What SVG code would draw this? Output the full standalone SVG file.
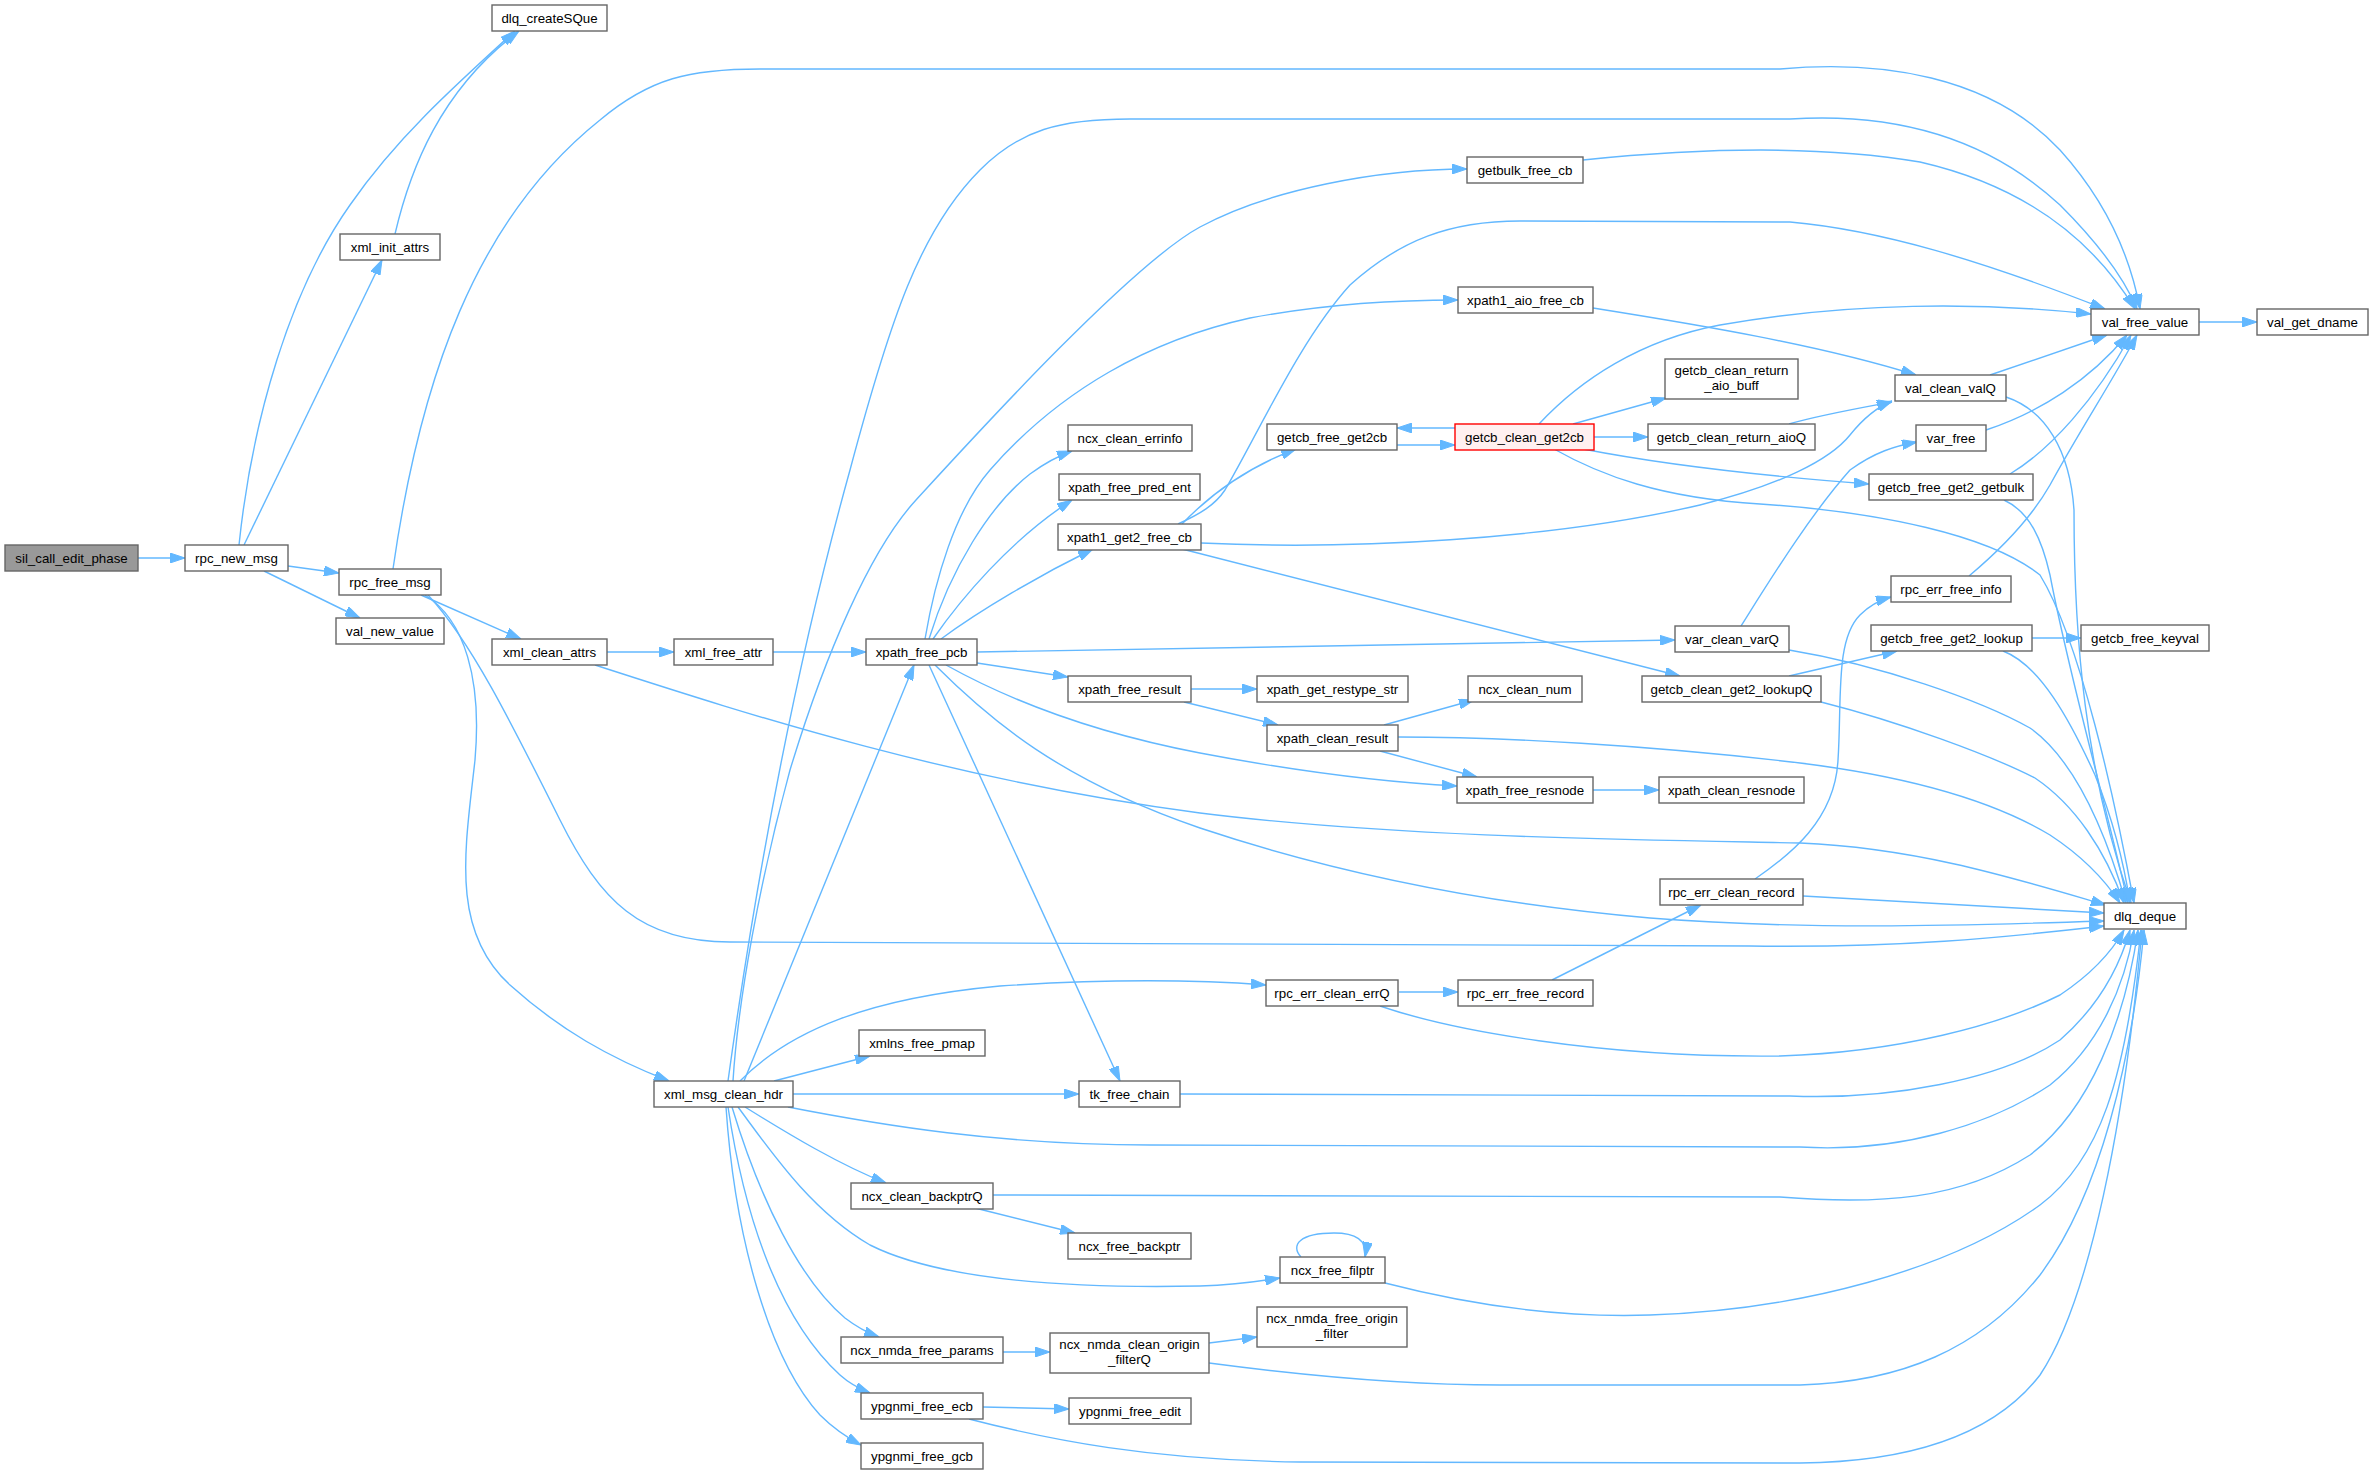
<svg xmlns="http://www.w3.org/2000/svg" width="2373" height="1473" viewBox="0 0 2373 1473">
<defs>
<style>
.n rect{fill:#ffffff;stroke:#666666;stroke-width:1.4}
.n text{font-family:"Liberation Sans",Arial,sans-serif;font-size:13.3px;fill:#000000;text-anchor:middle}
.root rect{fill:#999999}
.hl rect{fill:#fff0f0;stroke:#ff0000}
.e path{fill:none;stroke:#63b8ff;stroke-width:1.4;marker-end:url(#ah)}
</style>
<marker id="ah" viewBox="0 0 15 10" refX="15" refY="5" markerWidth="15" markerHeight="10" markerUnits="userSpaceOnUse" orient="auto">
<path d="M0,0 L15,5 L0,10 z" fill="#63b8ff" stroke="#63b8ff" stroke-width="1"/>
</marker>
</defs>
<rect x="0" y="0" width="2373" height="1473" fill="#ffffff"/>
<g id="connectors" class="e">
<path d="M138,558 L185,558"/>
<path d="M239,545 C252,420 290,290 350,205 C395,140 450,90 515,31"/>
<path d="M244,545 L382,260"/>
<path d="M395,234 C410,170 440,90 519,31"/>
<path d="M288,566 L339,573"/>
<path d="M264,571 L360,618"/>
<path d="M393,569 C420,380 475,220 600,120 C650,78 690,69 760,69 L1780,69 C1880,60 1990,75 2060,150 C2105,200 2130,255 2140,309"/>
<path d="M728,1081 C760,850 800,650 850,470 C890,320 920,230 980,170 C1020,130 1060,119 1130,119 L1790,119 C1900,112 1990,140 2060,205 C2100,245 2125,280 2137,309"/>
<path d="M733,1081 C738,1000 760,880 790,770 C825,655 870,550 916,500 C971,440 1130,265 1200,227 C1270,189 1380,169 1467,169"/>
<path d="M744,1081 L914,665"/>
<path d="M774,1081 L870,1056"/>
<path d="M793,1094 L1079,1094"/>
<path d="M740,1081 C790,1030 870,998 1000,986 C1120,978 1200,980 1266,985"/>
<path d="M788,1107 C880,1125 1000,1145 1150,1145 L1800,1147 C1900,1153 1990,1125 2050,1085 C2100,1045 2125,985 2134,930"/>
<path d="M745,1107 C790,1135 840,1165 886,1183"/>
<path d="M738,1107 C770,1150 810,1210 870,1245 C950,1285 1100,1288 1200,1286 C1230,1285 1255,1282 1280,1278"/>
<path d="M732,1107 C760,1200 800,1280 845,1318 C858,1328 868,1333 879,1337"/>
<path d="M728,1107 C745,1220 780,1320 840,1375 C850,1384 860,1389 870,1393"/>
<path d="M726,1107 C735,1240 770,1360 820,1415 C835,1430 848,1438 861,1445"/>
<path d="M421,595 L521,639"/>
<path d="M425,595 C465,620 482,680 475,760 C465,850 450,930 510,985 C560,1030 610,1058 669,1081"/>
<path d="M428,595 C470,640 510,720 560,820 C600,900 640,942 730,942 L1750,946 C1900,948 2000,938 2104,926"/>
<path d="M607,652 L674,652"/>
<path d="M595,665 C750,715 950,780 1200,813 C1400,838 1650,840 1800,843 C1920,848 2020,880 2106,905"/>
<path d="M773,652 L866,652"/>
<path d="M925,639 C935,580 955,510 990,470 C1060,390 1150,340 1250,318 C1330,303 1400,300 1458,300"/>
<path d="M929,639 C950,570 990,505 1030,474 C1045,463 1058,456 1072,451"/>
<path d="M933,639 C960,600 1010,540 1072,500"/>
<path d="M941,639 C980,610 1040,575 1093,549"/>
<path d="M977,652 C1300,648 1500,644 1675,640"/>
<path d="M977,663 L1068,677"/>
<path d="M946,665 C1000,695 1080,730 1200,753 C1300,772 1380,782 1457,786"/>
<path d="M935,665 C990,720 1060,780 1200,828 C1350,878 1500,905 1650,918 C1800,930 1950,926 2104,921"/>
<path d="M929,665 L1120,1081"/>
<path d="M1191,689 L1257,689"/>
<path d="M1184,702 L1278,725"/>
<path d="M1384,725 L1474,700"/>
<path d="M1380,751 L1477,777"/>
<path d="M1398,737 C1500,737 1650,745 1800,763 C1920,778 2000,805 2050,835 C2085,858 2105,880 2120,903"/>
<path d="M1593,790 L1659,790"/>
<path d="M1182,524 C1205,500 1240,470 1296,449"/>
<path d="M1178,524 C1200,514 1215,505 1225,490 C1260,430 1300,340 1350,285 C1400,240 1450,221 1520,221 L1790,222 C1880,230 1980,260 2105,309"/>
<path d="M1201,543 C1350,550 1550,540 1700,505 C1780,485 1830,460 1850,435 C1862,420 1875,408 1892,401"/>
<path d="M1182,549 L1680,676"/>
<path d="M1397,445 L1455,445"/>
<path d="M1455,428 L1397,428"/>
<path d="M1539,424 C1580,380 1640,340 1720,325 C1850,302 1980,302 2091,314"/>
<path d="M1573,424 L1666,398"/>
<path d="M1594,437 L1648,437"/>
<path d="M1583,449 C1650,462 1750,475 1869,484"/>
<path d="M1554,449 C1600,475 1660,498 1760,504 C1880,512 1990,535 2040,575 C2080,640 2115,800 2134,903"/>
<path d="M1789,424 C1820,415 1860,408 1892,402"/>
<path d="M1583,160 C1700,148 1820,145 1920,162 C2020,185 2090,235 2135,309"/>
<path d="M1593,308 C1700,325 1820,345 1916,375"/>
<path d="M2199,322 L2257,322"/>
<path d="M1990,375 L2107,335"/>
<path d="M2006,397 C2045,410 2070,450 2074,510 C2074,640 2085,770 2131,903"/>
<path d="M1986,430 C2040,412 2090,380 2127,335"/>
<path d="M2010,474 C2050,450 2095,400 2131,335"/>
<path d="M2004,500 C2030,512 2042,540 2050,575 C2070,680 2105,800 2128,903"/>
<path d="M1969,576 C2000,550 2030,520 2050,485 C2080,430 2110,385 2137,335"/>
<path d="M1741,626 C1770,580 1810,515 1850,470 C1875,452 1895,446 1917,442"/>
<path d="M1789,650 C1880,665 1980,700 2030,728 C2075,760 2105,830 2126,903"/>
<path d="M1789,676 L1897,651"/>
<path d="M1821,702 C1900,722 1990,755 2035,778 C2075,805 2105,850 2124,903"/>
<path d="M2032,638 L2081,638"/>
<path d="M2003,651 C2040,665 2070,720 2095,775 C2115,825 2125,870 2130,903"/>
<path d="M1399,992 L1458,992"/>
<path d="M1380,1006 C1450,1030 1600,1058 1780,1056 C1900,1052 2000,1025 2060,995 C2090,975 2110,955 2124,930"/>
<path d="M1552,980 L1701,905"/>
<path d="M1755,879 C1790,855 1835,820 1838,760 C1842,700 1835,640 1860,615 C1870,605 1880,600 1891,597"/>
<path d="M1803,896 C1900,901 2000,907 2104,913"/>
<path d="M1180,1094 L1790,1096 C1890,1100 2000,1080 2060,1040 C2100,1005 2120,965 2130,930"/>
<path d="M975,1208 L1075,1233"/>
<path d="M993,1195 L1780,1197 C1880,1205 1960,1200 2030,1155 C2090,1110 2125,1020 2138,930"/>
<path d="M1301,1257 C1290,1245 1300,1233 1334,1233 C1355,1233 1368,1240 1365,1257"/>
<path d="M1385,1283 C1470,1305 1560,1318 1650,1315 C1800,1310 1950,1270 2040,1205 C2100,1160 2125,1080 2141,930"/>
<path d="M1003,1352 L1050,1352"/>
<path d="M1209,1343 L1257,1337"/>
<path d="M1209,1363 C1300,1375 1400,1385 1500,1385 L1800,1385 C1900,1382 1980,1350 2040,1275 C2100,1195 2132,1060 2144,930"/>
<path d="M983,1407 L1069,1409"/>
<path d="M969,1419 C1050,1440 1150,1460 1300,1462 L1800,1463 C1900,1462 1990,1440 2040,1375 C2090,1300 2125,1120 2142,930"/>
</g>
<g id="n_sil_call_edit_phase" class="n root"><rect x="5" y="545" width="133" height="26"/><text x="71.5" y="563">sil_call_edit_phase</text></g>
<g id="n_rpc_new_msg" class="n"><rect x="185" y="545" width="103" height="26"/><text x="236.5" y="563">rpc_new_msg</text></g>
<g id="n_dlq_createSQue" class="n"><rect x="492" y="5" width="115" height="26"/><text x="549.5" y="23">dlq_createSQue</text></g>
<g id="n_xml_init_attrs" class="n"><rect x="340" y="234" width="100" height="26"/><text x="390" y="252">xml_init_attrs</text></g>
<g id="n_rpc_free_msg" class="n"><rect x="339" y="569" width="102" height="26"/><text x="390" y="587">rpc_free_msg</text></g>
<g id="n_val_new_value" class="n"><rect x="336" y="618" width="108" height="26"/><text x="390" y="636">val_new_value</text></g>
<g id="n_xml_clean_attrs" class="n"><rect x="492" y="639" width="115" height="26"/><text x="549.5" y="657">xml_clean_attrs</text></g>
<g id="n_xml_free_attr" class="n"><rect x="674" y="639" width="99" height="26"/><text x="723.5" y="657">xml_free_attr</text></g>
<g id="n_xpath_free_pcb" class="n"><rect x="866" y="639" width="111" height="26"/><text x="921.5" y="657">xpath_free_pcb</text></g>
<g id="n_xml_msg_clean_hdr" class="n"><rect x="654" y="1081" width="139" height="26"/><text x="723.5" y="1099">xml_msg_clean_hdr</text></g>
<g id="n_val_free_value" class="n"><rect x="2091" y="309" width="108" height="26"/><text x="2145" y="327">val_free_value</text></g>
<g id="n_val_get_dname" class="n"><rect x="2257" y="309" width="111" height="26"/><text x="2312.5" y="327">val_get_dname</text></g>
<g id="n_getbulk_free_cb" class="n"><rect x="1467" y="157" width="116" height="26"/><text x="1525" y="175">getbulk_free_cb</text></g>
<g id="n_xpath1_aio_free_cb" class="n"><rect x="1458" y="287" width="135" height="26"/><text x="1525.5" y="305">xpath1_aio_free_cb</text></g>
<g id="n_getcb_clean_return_aio_buff" class="n"><rect x="1665" y="359" width="133" height="40"/><text x="1731.5" y="375">getcb_clean_return</text><text x="1731.5" y="390">_aio_buff</text></g>
<g id="n_val_clean_valQ" class="n"><rect x="1895" y="375" width="111" height="26"/><text x="1950.5" y="393">val_clean_valQ</text></g>
<g id="n_ncx_clean_errinfo" class="n"><rect x="1068" y="425" width="124" height="26"/><text x="1130" y="443">ncx_clean_errinfo</text></g>
<g id="n_getcb_free_get2cb" class="n"><rect x="1267" y="424" width="130" height="26"/><text x="1332" y="442">getcb_free_get2cb</text></g>
<g id="n_getcb_clean_get2cb" class="n hl"><rect x="1455" y="424" width="139" height="26"/><text x="1524.5" y="442">getcb_clean_get2cb</text></g>
<g id="n_getcb_clean_return_aioQ" class="n"><rect x="1648" y="424" width="167" height="26"/><text x="1731.5" y="442">getcb_clean_return_aioQ</text></g>
<g id="n_var_free" class="n"><rect x="1916" y="425" width="70" height="26"/><text x="1951" y="443">var_free</text></g>
<g id="n_xpath_free_pred_ent" class="n"><rect x="1059" y="474" width="141" height="26"/><text x="1129.5" y="492">xpath_free_pred_ent</text></g>
<g id="n_xpath1_get2_free_cb" class="n"><rect x="1058" y="524" width="143" height="26"/><text x="1129.5" y="542">xpath1_get2_free_cb</text></g>
<g id="n_getcb_free_get2_getbulk" class="n"><rect x="1869" y="474" width="164" height="26"/><text x="1951" y="492">getcb_free_get2_getbulk</text></g>
<g id="n_rpc_err_free_info" class="n"><rect x="1891" y="576" width="120" height="26"/><text x="1951" y="594">rpc_err_free_info</text></g>
<g id="n_getcb_free_get2_lookup" class="n"><rect x="1871" y="625" width="161" height="26"/><text x="1951.5" y="643">getcb_free_get2_lookup</text></g>
<g id="n_getcb_free_keyval" class="n"><rect x="2081" y="625" width="128" height="26"/><text x="2145" y="643">getcb_free_keyval</text></g>
<g id="n_var_clean_varQ" class="n"><rect x="1675" y="626" width="114" height="26"/><text x="1732" y="644">var_clean_varQ</text></g>
<g id="n_xpath_free_result" class="n"><rect x="1068" y="676" width="123" height="26"/><text x="1129.5" y="694">xpath_free_result</text></g>
<g id="n_xpath_get_restype_str" class="n"><rect x="1257" y="676" width="151" height="26"/><text x="1332.5" y="694">xpath_get_restype_str</text></g>
<g id="n_ncx_clean_num" class="n"><rect x="1468" y="676" width="114" height="26"/><text x="1525" y="694">ncx_clean_num</text></g>
<g id="n_getcb_clean_get2_lookupQ" class="n"><rect x="1642" y="676" width="179" height="26"/><text x="1731.5" y="694">getcb_clean_get2_lookupQ</text></g>
<g id="n_xpath_clean_result" class="n"><rect x="1267" y="725" width="131" height="26"/><text x="1332.5" y="743">xpath_clean_result</text></g>
<g id="n_xpath_free_resnode" class="n"><rect x="1457" y="777" width="136" height="26"/><text x="1525" y="795">xpath_free_resnode</text></g>
<g id="n_xpath_clean_resnode" class="n"><rect x="1659" y="777" width="145" height="26"/><text x="1731.5" y="795">xpath_clean_resnode</text></g>
<g id="n_rpc_err_clean_record" class="n"><rect x="1660" y="879" width="143" height="26"/><text x="1731.5" y="897">rpc_err_clean_record</text></g>
<g id="n_dlq_deque" class="n"><rect x="2104" y="903" width="82" height="26"/><text x="2145" y="921">dlq_deque</text></g>
<g id="n_rpc_err_clean_errQ" class="n"><rect x="1266" y="980" width="132" height="26"/><text x="1332" y="998">rpc_err_clean_errQ</text></g>
<g id="n_rpc_err_free_record" class="n"><rect x="1458" y="980" width="135" height="26"/><text x="1525.5" y="998">rpc_err_free_record</text></g>
<g id="n_xmlns_free_pmap" class="n"><rect x="859" y="1030" width="126" height="26"/><text x="922" y="1048">xmlns_free_pmap</text></g>
<g id="n_tk_free_chain" class="n"><rect x="1079" y="1081" width="101" height="26"/><text x="1129.5" y="1099">tk_free_chain</text></g>
<g id="n_ncx_clean_backptrQ" class="n"><rect x="851" y="1183" width="142" height="26"/><text x="922" y="1201">ncx_clean_backptrQ</text></g>
<g id="n_ncx_free_backptr" class="n"><rect x="1068" y="1233" width="123" height="26"/><text x="1129.5" y="1251">ncx_free_backptr</text></g>
<g id="n_ncx_free_filptr" class="n"><rect x="1280" y="1257" width="105" height="26"/><text x="1332.5" y="1275">ncx_free_filptr</text></g>
<g id="n_ncx_nmda_free_params" class="n"><rect x="841" y="1337" width="162" height="26"/><text x="922" y="1355">ncx_nmda_free_params</text></g>
<g id="n_ncx_nmda_clean_origin_filterQ" class="n"><rect x="1050" y="1333" width="159" height="40"/><text x="1129.5" y="1349">ncx_nmda_clean_origin</text><text x="1129.5" y="1364">_filterQ</text></g>
<g id="n_ncx_nmda_free_origin_filter" class="n"><rect x="1257" y="1307" width="150" height="40"/><text x="1332" y="1323">ncx_nmda_free_origin</text><text x="1332" y="1338">_filter</text></g>
<g id="n_ypgnmi_free_ecb" class="n"><rect x="861" y="1393" width="122" height="26"/><text x="922" y="1411">ypgnmi_free_ecb</text></g>
<g id="n_ypgnmi_free_edit" class="n"><rect x="1069" y="1398" width="122" height="26"/><text x="1130" y="1416">ypgnmi_free_edit</text></g>
<g id="n_ypgnmi_free_gcb" class="n"><rect x="861" y="1443" width="122" height="26"/><text x="922" y="1461">ypgnmi_free_gcb</text></g>
</svg>
